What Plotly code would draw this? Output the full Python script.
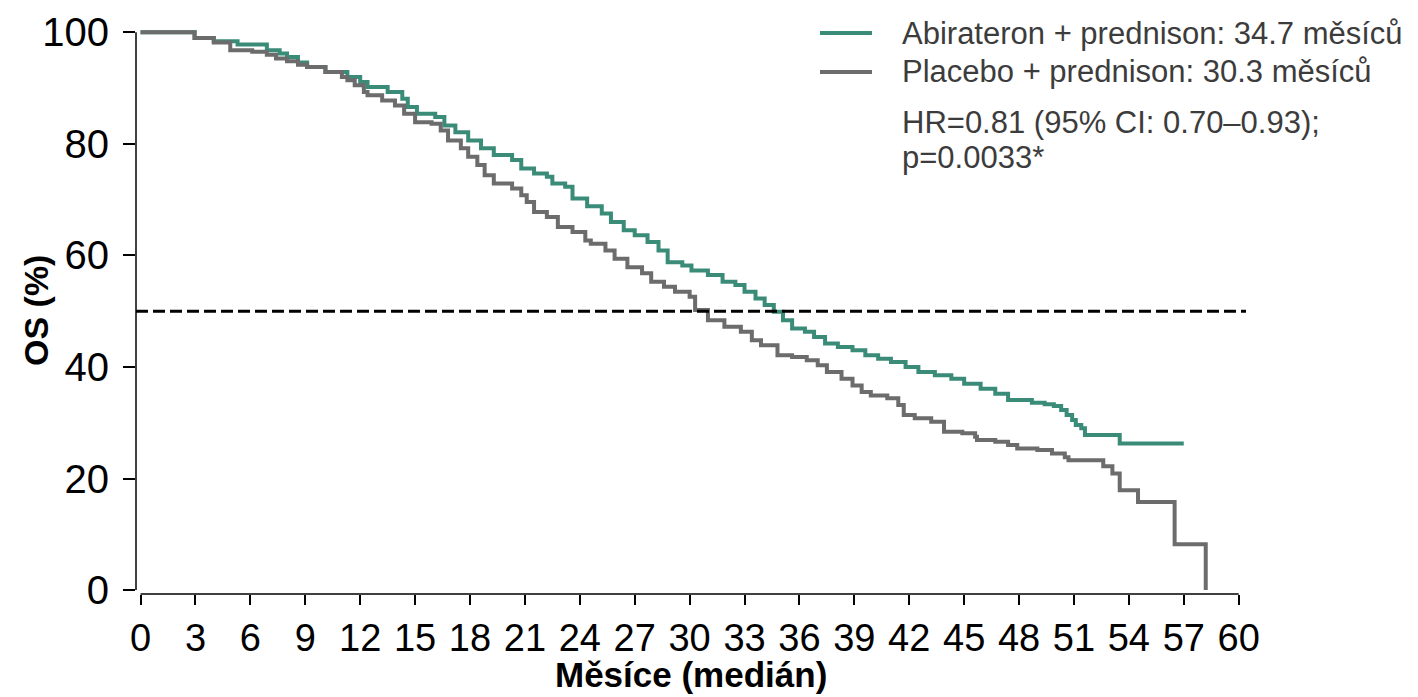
import plotly.graph_objects as go

# Abirateron + prednison (Kaplan-Meier steps: time in months, OS %)
abi_t = [0, 2.95, 4.0, 5.3, 6.9, 7.6, 8.0, 8.6, 9.1, 10.1, 11.3, 12.0, 12.4, 13.5, 14.3, 14.6,
         15.1, 16.1, 16.6, 17.2, 17.9, 18.6, 19.3, 20.3, 20.8, 21.5, 22.2, 22.5, 23.2, 23.6,
         24.4, 25.2, 25.7, 26.4, 27.0, 27.7, 28.3, 28.8, 29.6, 30.1, 31.0, 31.8, 32.5, 33.0,
         33.6, 34.1, 34.6, 35.1, 35.6, 36.3, 36.8, 37.4, 38.1, 38.9, 39.6, 40.3, 41.0, 41.8,
         42.5, 43.4, 44.3, 45.0, 45.9, 46.7, 47.4, 48.7, 49.4, 49.9, 50.3, 50.6, 50.9, 51.1,
         51.4, 51.6, 53.5, 57.0]
abi_s = [100, 99.0, 98.4, 97.8, 96.8, 96.2, 95.6, 94.6, 93.8, 92.9, 92.0, 91.1, 90.2, 89.3, 88.1, 86.6,
         85.4, 84.8, 83.3, 82.1, 80.6, 79.2, 78.0, 77.1, 75.6, 74.7, 74.1, 72.9, 72.3, 70.2,
         68.8, 67.5, 66.0, 64.5, 63.6, 62.4, 60.9, 58.8, 58.2, 57.3, 56.5, 55.3, 54.7, 53.5,
         52.3, 51.1, 49.9, 48.4, 46.9, 46.3, 45.4, 44.2, 43.6, 43.0, 42.1, 41.5, 40.9, 40.0,
         39.1, 38.5, 37.9, 37.0, 36.1, 35.2, 34.1, 33.6, 33.3, 33.0, 32.3, 31.4, 30.5, 29.6,
         29.0, 27.8, 26.3, 26.3]

# Placebo + prednison
pla_t = [0, 2.95, 4.0, 4.9, 6.1, 6.9, 7.4, 8.0, 8.6, 9.1, 10.1, 11.0, 11.3, 11.7, 12.2, 12.4,
         13.2, 13.9, 14.4, 15.0, 15.9, 16.4, 16.8, 17.5, 17.9, 18.4, 18.8, 19.3, 20.3, 20.8,
         21.1, 21.5, 22.2, 22.8, 23.6, 24.3, 24.6, 25.4, 25.9, 26.6, 27.4, 27.9, 28.6, 29.2,
         30.0, 30.3, 31.0, 31.9, 32.8, 33.4, 33.9, 34.8, 35.6, 36.4, 37.0, 37.5, 38.3, 38.9,
         39.4, 39.9, 40.8, 41.4, 41.7, 42.3, 43.2, 43.9, 44.9, 45.6, 45.7, 46.7, 47.4, 47.9,
         49.0, 49.8, 50.5, 50.7, 52.6, 53.1, 53.5, 54.5, 56.5, 58.2]
pla_s = [100, 99.0, 98.2, 96.8, 96.5, 96.0, 95.3, 94.8, 94.2, 93.8, 92.9, 92.0, 91.4, 90.5, 89.3, 88.7,
         87.8, 86.9, 85.4, 83.9, 83.6, 82.4, 80.6, 79.2, 77.7, 76.2, 74.4, 72.9, 72.0, 70.8,
         69.6, 67.8, 66.9, 65.1, 64.2, 62.7, 62.1, 60.9, 59.4, 57.9, 56.8, 55.3, 54.4, 53.5,
         52.6, 50.2, 48.4, 47.2, 46.3, 44.8, 43.9, 42.1, 41.8, 41.2, 40.3, 39.1, 37.9, 36.7,
         35.5, 34.9, 34.4, 33.2, 31.4, 30.8, 30.2, 28.4, 28.1, 27.5, 26.9, 26.6, 26.0, 25.4,
         25.1, 24.5, 23.8, 23.3, 22.2, 20.9, 17.9, 15.8, 8.2, 0]

x_ticks = list(range(0, 61, 3))
y_ticks = [0, 20, 40, 60, 80, 100]
median_line = 50

legend_labels = ["Abirateron + prednison: 34.7 měsíců", "Placebo + prednison: 30.3 měsíců"]
stats_text = ["HR=0.81 (95% CI: 0.70–0.93);", "p=0.0033*"]

GREEN = "#3a8c78"
GRAY = "#6c6c6c"
FONT = "Arial, Liberation Sans, sans-serif"

# page body has an 8px margin; work in screenshot pixels and subtract it
OFF = 8
W, H = 1418 - OFF, 697 - OFF
L, T = 136 - OFF, 29 - OFF
PW, PH = 1110, 565
R, B = W - L - PW, H - T - PH

def px_x(p):
    return (p - OFF - L) / PW

def px_y(p):
    return (T + PH - (p - OFF)) / PH

fig = go.Figure()
fig.add_trace(go.Scatter(x=abi_t, y=abi_s, mode="lines", line=dict(color=GREEN, width=4, shape="hv"),
                         name=legend_labels[0], showlegend=False))
fig.add_trace(go.Scatter(x=pla_t, y=pla_s, mode="lines", line=dict(color=GRAY, width=4, shape="hv"),
                         name=legend_labels[1], showlegend=False))

shapes = [
    dict(type="line", xref="paper", yref="y", x0=0, x1=1, y0=median_line, y1=median_line,
         line=dict(color="black", width=3, dash="12px,5px")),
    dict(type="line", xref="paper", yref="y", x0=0, x1=0, y0=0, y1=100, line=dict(color="black", width=1.5)),
    dict(type="line", xref="x", yref="paper", x0=0, x1=60, y0=0, y1=0, line=dict(color="black", width=1.5)),
    dict(type="line", xref="paper", yref="paper", x0=px_x(820), x1=px_x(872), y0=px_y(33), y1=px_y(33),
         line=dict(color=GREEN, width=4)),
    dict(type="line", xref="paper", yref="paper", x0=px_x(820), x1=px_x(872), y0=px_y(72), y1=px_y(72),
         line=dict(color=GRAY, width=4)),
]

annotations = []
for txt, py in zip(legend_labels + stats_text, [33, 72, 122, 157]):
    annotations.append(dict(text=txt, xref="paper", yref="paper", x=px_x(900), y=px_y(py),
                            xanchor="left", yanchor="middle", showarrow=False,
                            font=dict(family=FONT, size=31, color="#3c3c3c")))
annotations.append(dict(text="<b>OS (%)</b>", xref="paper", yref="paper", x=px_x(36), y=px_y(311),
                        xanchor="center", yanchor="middle", textangle=-90, showarrow=False,
                        font=dict(family=FONT, size=34, color="black")))
annotations.append(dict(text="<b>Měsíce (medián)</b>", xref="paper", yref="paper", x=px_x(691), y=px_y(674),
                        xanchor="center", yanchor="middle", showarrow=False,
                        font=dict(family=FONT, size=35, color="black")))

fig.update_layout(
    width=W, height=H, margin=dict(l=L, r=R, t=T, b=B, autoexpand=False),
    paper_bgcolor="white", plot_bgcolor="white",
    shapes=shapes, annotations=annotations, showlegend=False,
    xaxis=dict(range=[-0.25, 60.4], tickvals=x_ticks, ticktext=[str(v) for v in x_ticks],
               ticks="outside", ticklen=10, tickwidth=1.5, tickcolor="black", automargin=False,
               showgrid=False, zeroline=False, showline=False,
               tickfont=dict(family=FONT, size=38, color="black")),
    yaxis=dict(range=[-0.7, 100.6], tickvals=y_ticks, ticktext=[str(v) for v in y_ticks],
               ticks="outside", ticklen=12, tickwidth=1.5, tickcolor="black", automargin=False,
               showgrid=False, zeroline=False, showline=False, ticklabelstandoff=6,
               tickfont=dict(family=FONT, size=40, color="black")),
)

fig.write_html("out.html")
